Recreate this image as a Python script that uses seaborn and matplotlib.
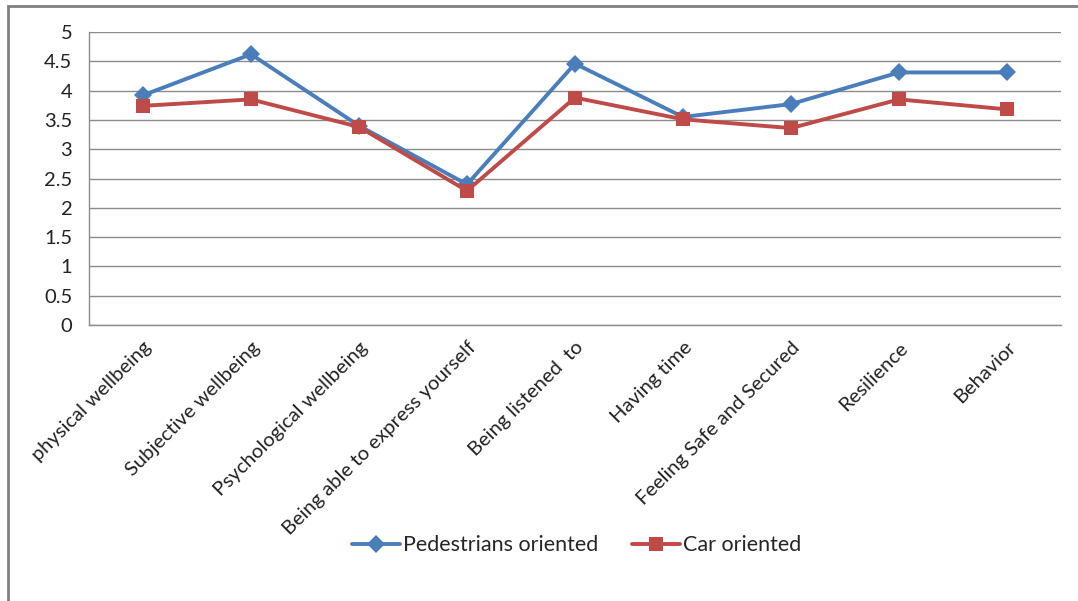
import numpy as np
import pandas as pd
import matplotlib
matplotlib.use("Agg")
import matplotlib.pyplot as plt
import seaborn as sns
from matplotlib.patches import Rectangle

categories = ["physical wellbeing", "Subjective wellbeing", "Psychological wellbeing",
              "Being able to express yourself", "Being listened  to", "Having time",
              "Feeling Safe and Secured", "Resilience", "Behavior"]
pedestrians = [3.92, 4.62, 3.40, 2.40, 4.46, 3.55, 3.77, 4.31, 4.31]
car = [3.74, 3.85, 3.38, 2.29, 3.88, 3.51, 3.36, 3.85, 3.68]
series_names = ["Pedestrians oriented", "Car oriented"]
y_ticks = [0, 0.5, 1, 1.5, 2, 2.5, 3, 3.5, 4, 4.5, 5]
y_tick_labels = ["0", "0.5", "1", "1.5", "2", "2.5", "3", "3.5", "4", "4.5", "5"]

sns.set_theme(style="white")
plt.rcParams['font.family'] = ['Lato', 'DejaVu Sans']

n = len(categories)
pos = np.arange(n)
df = pd.DataFrame({
    "pos": np.concatenate([pos, pos]),
    "value": pedestrians + car,
    "series": [series_names[0]] * n + [series_names[1]] * n,
})

fig = plt.figure(figsize=(10.78, 6.01), dpi=100)
ax = fig.add_axes([89 / 1078, 1 - 325 / 601, (1061 - 89) / 1078, (325 - 32) / 601])

palette = {series_names[0]: "#4A7EBB", series_names[1]: "#BE4B48"}
markers = {series_names[0]: "D", series_names[1]: "s"}
sizes = {series_names[0]: 9, series_names[1]: 10.5}
for name in series_names:
    sub = df[df["series"] == name]
    sns.lineplot(data=sub, x="pos", y="value", ax=ax, color=palette[name],
                 marker=markers[name], markersize=sizes[name], markeredgewidth=0,
                 linewidth=2.8, sort=False, label=name, zorder=3)

ax.set_xlim(-0.5, n - 0.5)
ax.set_ylim(0, 5)
ax.set_yticks(y_ticks)
ax.set_yticklabels(y_tick_labels, fontsize=14.5, color="#222222")
ax.set_xticks(pos)
ax.set_xticklabels(categories, rotation=45, ha="right", rotation_mode="anchor",
                   fontsize=14.5, color="#222222")
ax.tick_params(axis="x", length=0, pad=10)
ax.tick_params(axis="y", length=0, pad=12)
ax.set_xlabel("")
ax.set_ylabel("")
ax.grid(axis="y", color="#8c8c8c", linewidth=1.0)
ax.grid(axis="x", visible=False)
ax.set_axisbelow(True)
for s in ["top", "right"]:
    ax.spines[s].set_visible(False)
for s in ["left", "bottom"]:
    ax.spines[s].set_color("#8c8c8c")
    ax.spines[s].set_linewidth(1.0)

ax.legend(loc="center", bbox_to_anchor=(0.535, 0.093), bbox_transform=fig.transFigure,
          ncol=2, frameon=False, fontsize=15.5, handlelength=2.2, columnspacing=1.6,
          handletextpad=0.15)

fig.patches.append(Rectangle((8 / 1078, -0.05), 1.2, 1 - 6 / 601 + 0.05,
                             transform=fig.transFigure, fill=False,
                             edgecolor="#7f7f7f", linewidth=2, zorder=0))

fig.savefig("out.png", dpi=100)
